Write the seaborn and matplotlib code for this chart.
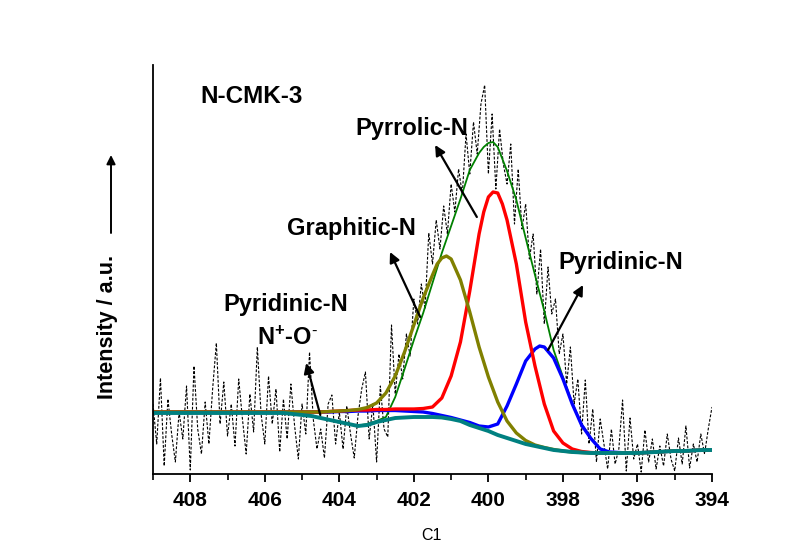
import numpy as np
import pandas as pd
import matplotlib
matplotlib.use("Agg")
import matplotlib.pyplot as plt
from matplotlib.ticker import MultipleLocator
import seaborn as sns

sns.set_style("ticks")
plt.rcParams["font.family"] = ["Liberation Sans", "DejaVu Sans"]
plt.rcParams["mathtext.fontset"] = "custom"
plt.rcParams["mathtext.rm"] = "Liberation Sans"
plt.rcParams["mathtext.bf"] = "Liberation Sans:bold"
plt.rcParams["mathtext.default"] = "bf"
plt.rcParams["text.color"] = "black"
plt.rcParams["axes.labelcolor"] = "black"
plt.rcParams["xtick.color"] = "black"

# ---------------- data ----------------
# raw spectrum, 409.0 -> 394.0 eV in 0.1 eV steps
be_raw = np.round(np.linspace(409.0, 394.0, 151), 2)
raw = [70, 30, 96, 8, 75, 40, 12, 62, 35, 88,
       4, 108, 45, 20, 72, 30, 85, 131, 50, 92,
       38, 70, 28, 95, 55, 20, 80, 42, 127, 60,
       30, 98, 50, 85, 22, 75, 35, 90, 48, 15,
       70, 40, 122, 55, 25,
       45, 16, 70, 79, 30, 62, 25, 68, 40, 16,
       58, 85, 102, 35, 70, 12, 88,
       45, 37, 149, 80, 120, 95, 140, 118, 175, 150,
       190, 165, 241, 210, 254, 225, 268, 240, 290, 262,
       305, 280, 340, 300, 352, 320, 370,
       389, 300, 360, 285, 345, 310, 290,
       330, 250, 305, 245, 270, 215, 240, 180, 225, 150,
       207, 160, 175, 120, 140, 90, 127, 70, 95, 40,
       94, 30, 65, 12, 55,
       30, 5, 45, 10, 25, 74, 3, 56, 15, 30,
       2, 44, 12, 35, 5, 28, 8, 40, 15, 3,
       36, 10, 48, 6, 30, 12, 40, 20, 45, 67]

# fitted curves, 409.0 -> 394.0 eV in 0.25 eV steps
be_fit = np.round(np.linspace(409.0, 394.0, 61), 2)

baseline = [61] * 15 + [60, 59, 58, 56, 54, 52, 50, 48, 49, 52,
                        54, 56, 56.5, 57, 57, 57, 56.5, 55, 53, 49,
                        46, 43, 39, 36, 33, 30, 28, 26, 24, 23,
                        22, 21.5, 21,
                        21, 21, 21, 21, 21, 21.5, 22, 22.5, 23, 23, 23.5, 24, 24]

pyrrolic = [62] * 19 + [62.5, 63, 63.5, 64, 64, 64.5, 64.5, 65, 65, 65,
                        65.5, 67, 76, 98, 132, 183, 240, 277, 281, 254,
                        210, 152, 108, 70, 43, 31, 25, 22.5, 21.5, 21,
                        21, 21, 21, 21, 21.5, 22, 22.5, 23, 23, 23.5, 24, 24]

graphitic = [62] * 19 + [62.5, 63, 63.5, 64.5, 66.5, 71, 81, 98, 122, 149,
                         176, 199, 216, 215, 194, 162, 127, 97, 72, 53,
                         41, 33.5, 29, 26.5, 24.5, 23, 22, 21.5, 21,
                         21, 21, 21, 21, 21, 21.5, 22, 22.5, 23, 23, 23.5, 24, 24]

pyridinic = [62] * 19 + [62, 62.5, 62.5, 63, 63, 63.5, 63.5, 63.5, 63, 62.5,
                         62, 60.5, 58.5, 56.5, 54, 51.5, 48, 47, 50, 68,
                         90, 113, 125, 127, 116, 95, 70, 49, 35.5, 25,
                         22, 21.5,
                         21, 21, 21.5, 22, 22.5, 23, 23, 23.5, 24, 24]

envelope = baseline[:19] + [54, 52, 50, 48.5, 50, 53, 57, 77, 105, 134,
                            161, 191, 221, 248, 275, 304, 321, 331, 327, 303,
                            274, 236, 199, 163, 124, 97, 71, 50, 36, 25.5,
                            22, 21.5,
                            21, 21, 21.5, 22, 22.5, 23, 23, 23.5, 24, 24]

# extra points read at the tops of the peaks (BE, intensity)
pyrrolic_top = [(399.875, 282), (400.125, 262), (399.625, 270)]
graphitic_top = [(401.125, 218), (401.375, 210)]
pyridinic_top = [(398.625, 128)]
envelope_top = [(399.875, 332), (400.125, 327)]


def curve_frame(values, extra):
    d = pd.DataFrame({"BE": be_fit, "I": values})
    if extra:
        d = pd.concat([d, pd.DataFrame(extra, columns=["BE", "I"])])
    return d.sort_values("BE", ascending=False).reset_index(drop=True)


df_raw = pd.DataFrame({"BE": be_raw, "I": raw})

# ---------------- figure ----------------
W, H = 807, 560
fig = plt.figure(figsize=(W / 100, H / 100), dpi=100)
ax = fig.add_axes([153 / W, 86 / H, 559 / W, 409 / H])

sns.lineplot(data=df_raw, x="BE", y="I", ax=ax, color="black", lw=0.8,
             linestyle=(0, (2.5, 1.5)), estimator=None, sort=False)
curves = [(envelope, envelope_top, "#008000", 1.3),
          (pyridinic, pyridinic_top, "#0000FF", 2.4),
          (pyrrolic, pyrrolic_top, "#FF0000", 2.4),
          (graphitic, graphitic_top, "#808000", 2.4),
          (baseline, [], "#008080", 2.8)]
for vals, extra, c, lw in curves:
    sns.lineplot(data=curve_frame(vals, extra), x="BE", y="I", ax=ax, color=c,
                 lw=lw, estimator=None, sort=False, solid_joinstyle="round")

ax.set_xlim(409, 394)
ax.set_ylim(0, 409)
ax.set_yticks([])
ax.set_xticks(list(range(408, 393, -2)))
ax.xaxis.set_minor_locator(MultipleLocator(1))
ax.set_xlabel("")
ax.set_ylabel("")
for s in ["top", "right"]:
    ax.spines[s].set_visible(False)
for s in ["left", "bottom"]:
    ax.spines[s].set_linewidth(1.3)
    ax.spines[s].set_color("black")
ax.tick_params(axis="x", which="major", direction="out", length=6, width=1.3,
               pad=6, labelsize=15, colors="black")
ax.tick_params(axis="x", which="minor", direction="out", length=4, width=1.2)
for lab in ax.get_xticklabels():
    lab.set_fontweight("bold")


def fx(px):
    return px / W


def fy(py):
    return 1 - py / H


fig.text(fx(200), fy(96), "N-CMK-3", fontsize=17.5, fontweight="bold",
         ha="left", va="center")
fig.text(fx(412), fy(129), "Pyrrolic-N", fontsize=17, fontweight="bold",
         ha="center", va="center")
fig.text(fx(351), fy(228), "Graphitic-N", fontsize=17, fontweight="bold",
         ha="center", va="center")
fig.text(fx(621), fy(262), "Pyridinic-N", fontsize=17, fontweight="bold",
         ha="center", va="center")
fig.text(fx(286), fy(304), "Pyridinic-N", fontsize=17, fontweight="bold",
         ha="center", va="center")
fig.text(fx(287), fy(338), r"N$^{+}$-O$^{\text{-}}$", fontsize=17,
         fontweight="bold", ha="center", va="center")
fig.text(fx(431), fy(535), "C1", fontsize=11.5, ha="center", va="center")
fig.text(fx(107), fy(327), "Intensity / a.u.", fontsize=15.5, fontweight="bold",
         rotation=90, ha="center", va="center")

arrow_kw = dict(arrowstyle="-|>", color="black", lw=1.6, mutation_scale=15,
                shrinkA=0, shrinkB=0)
ax.annotate("", xy=(401.43, 329), xytext=(400.31, 257), arrowprops=arrow_kw)
ax.annotate("", xy=(402.64, 222), xytext=(401.83, 157), arrowprops=arrow_kw)
ax.annotate("", xy=(397.46, 189), xytext=(398.40, 124), arrowprops=arrow_kw)
ax.annotate("", xy=(404.89, 111), xytext=(404.51, 59), arrowprops=arrow_kw)
ax.annotate("", xy=(111, H - 155), xytext=(111, H - 233),
            xycoords="figure pixels", textcoords="figure pixels",
            arrowprops=dict(arrowstyle="-|>", color="black", lw=1.4,
                            mutation_scale=13, shrinkA=0, shrinkB=0))

fig.savefig("out.png", dpi=100)
